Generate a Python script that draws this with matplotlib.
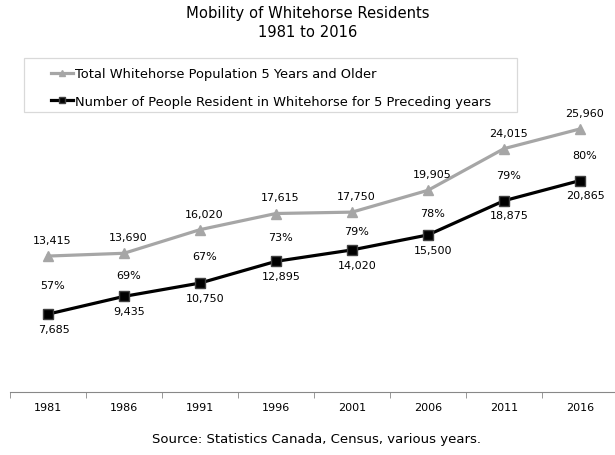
"""
Mobility of Whitehorse residents, 1981 to 2016.
"""

import matplotlib.pyplot as plt
import numpy as np
from matplotlib.patches import Rectangle

# Census years and counts
years = ["1981", "1986", "1991", "1996", "2001", "2006", "2011", "2016"]
total_pop = [13415, 13690, 16020, 17615, 17750, 19905, 24015, 25960]
resident_5yrs = [7685, 9435, 10750, 12895, 14020, 15500, 18875, 20865]
pct_resident = [57, 69, 67, 73, 79, 78, 79, 80]

GRAY = "#A6A6A6"
W, H = 615, 456

plt.rcParams["font.family"] = "DejaVu Sans"

fig = plt.figure(figsize=(W / 100, H / 100), dpi=100)
ax = fig.add_axes([10 / W, 63 / H, 608 / W, 304 / H])

x = np.arange(len(years))

ax.plot(x, total_pop, color=GRAY, linewidth=2.3, marker="^", markersize=7,
        markerfacecolor=GRAY, markeredgecolor=GRAY,
        label="Total Whitehorse Population 5 Years and Older")
ax.plot(x, resident_5yrs, color="black", linewidth=2.3, marker="s", markersize=7.5,
        markerfacecolor="black", markeredgecolor="#404040",
        label="Number of People Resident in Whitehorse for 5 Preceding years")

# value labels: above the gray line, below the black line, percent in between
for i in range(len(years)):
    ax.annotate(f"{total_pop[i]:,}", (x[i], total_pop[i]), xytext=(3, 8),
                textcoords="offset points", ha="center", va="bottom", fontsize=8)
    ax.annotate(f"{resident_5yrs[i]:,}", (x[i], resident_5yrs[i]), xytext=(4, -7),
                textcoords="offset points", ha="center", va="top", fontsize=8)
    mid = (total_pop[i] + resident_5yrs[i]) / 2
    ax.annotate(f"{pct_resident[i]}%", (x[i], mid), xytext=(3, 0),
                textcoords="offset points", ha="center", va="center", fontsize=8)

ax.set_xlim(-0.5, len(years) - 0.5)
ax.set_ylim(0, 30000)

# category axis: labels centred, tick marks on the boundaries
ax.set_xticks(x)
ax.set_xticklabels(years, fontsize=8)
ax.tick_params(axis="x", which="major", length=0, pad=7.5)
ax.set_xticks(np.arange(len(years) + 1) - 0.5, minor=True)
ax.tick_params(axis="x", which="minor", length=4, color="#888888")
ax.set_yticks([])

for side in ["left", "right", "top"]:
    ax.spines[side].set_visible(False)
ax.spines["bottom"].set_color("#888888")
ax.patch.set_alpha(0)

# legend without its own frame; the box is drawn separately
ax.legend(loc="center left", bbox_to_anchor=(51 / W, 1 - 88.5 / H),
          bbox_transform=fig.transFigure, fontsize=9.4, frameon=False,
          handlelength=1.7, handletextpad=0.15, labelspacing=1.1,
          markerscale=0.6, borderpad=0, borderaxespad=0)
fig.patches.append(Rectangle((24 / W, 1 - 113 / H), 493 / W, 54 / H,
                             transform=fig.transFigure, fill=False,
                             edgecolor="#D9D9D9", linewidth=0.9))

fig.text(0.5, 1 - 23 / H, "Mobility of Whitehorse Residents\n1981 to 2016",
         ha="center", va="center", fontsize=10.6, linespacing=1.3)
fig.text(316 / W, 1 - 440 / H, "Source: Statistics Canada, Census, various years.",
         ha="center", va="center", fontsize=9.5)

fig.savefig("out.png", dpi=100)
